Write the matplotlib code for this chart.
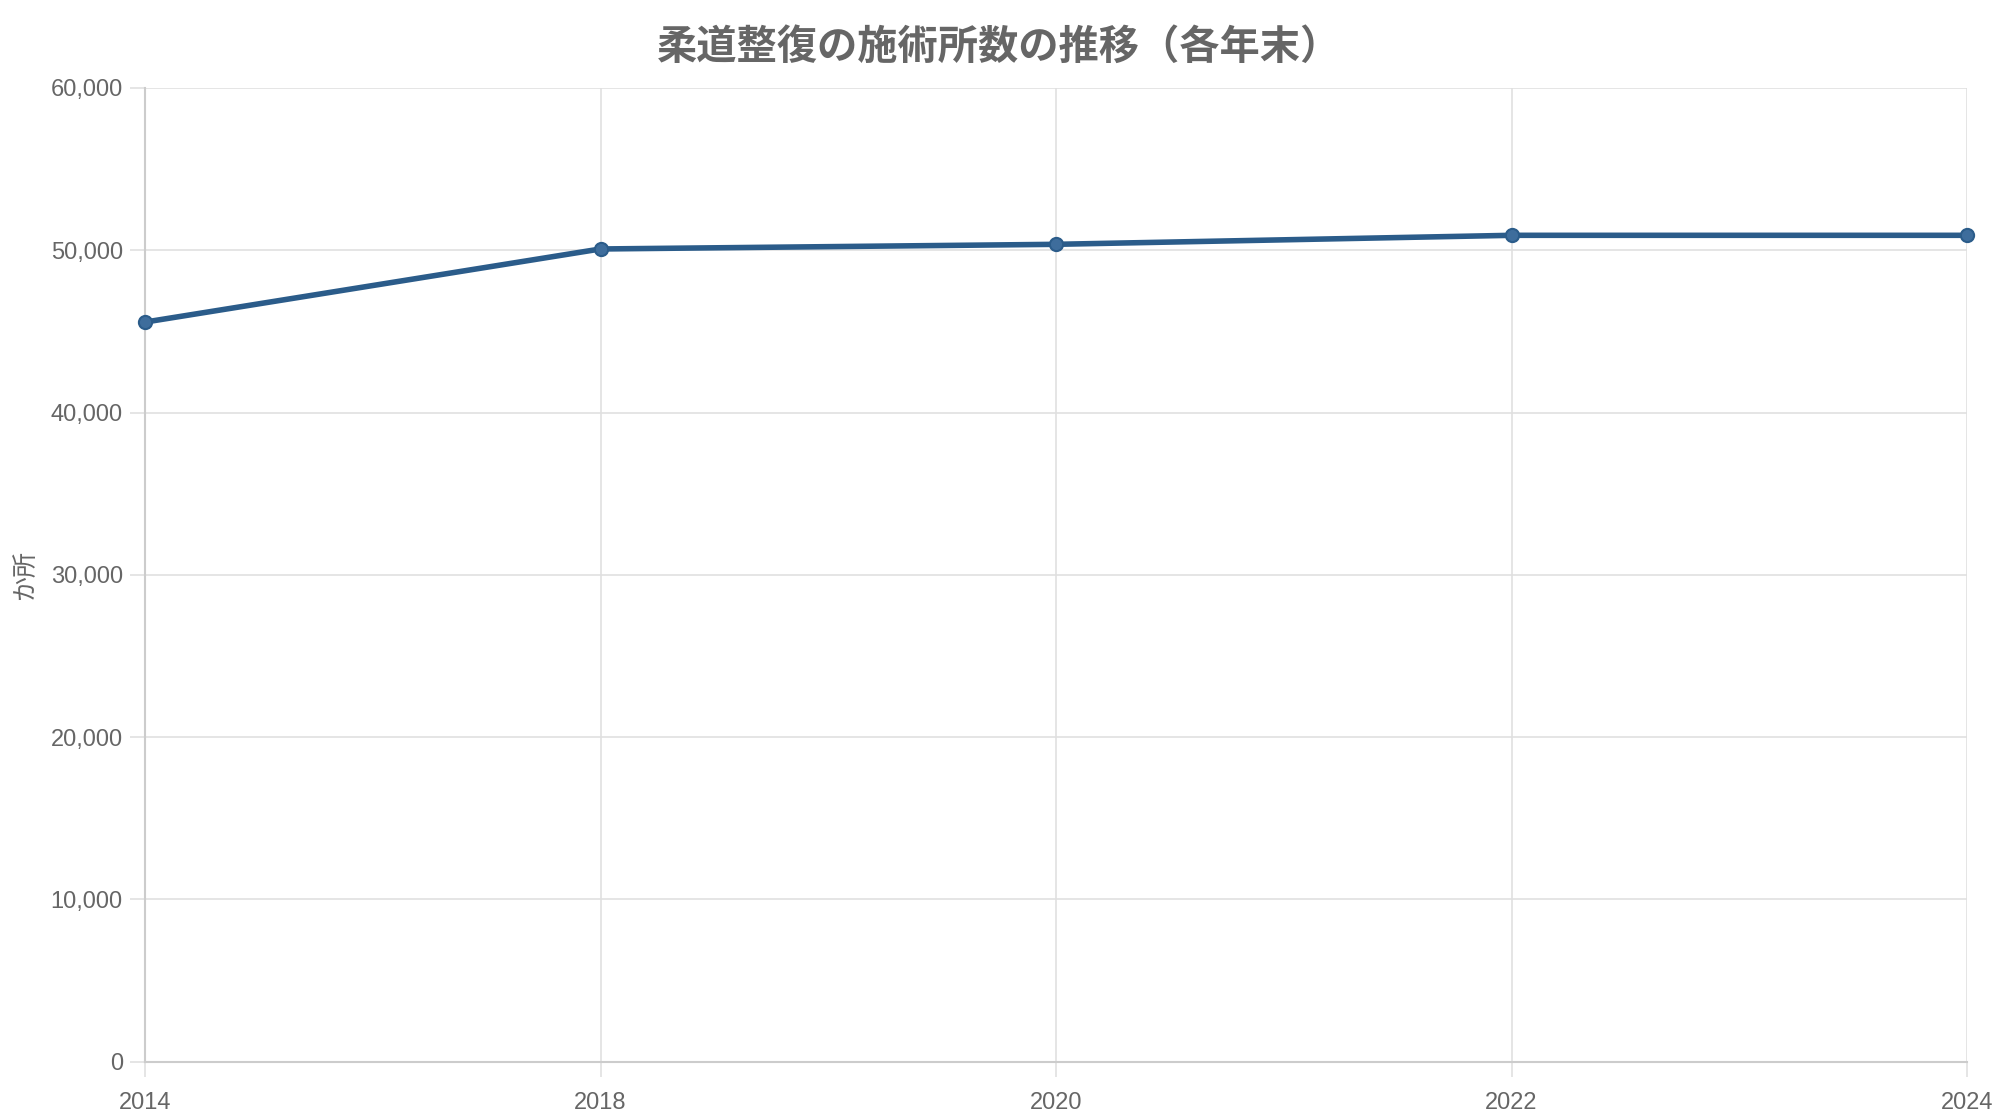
import matplotlib
matplotlib.use("Agg")
import matplotlib.pyplot as plt
from matplotlib.ticker import FuncFormatter, MultipleLocator

plt.rcParams['font.family'] = ['Liberation Sans', 'Noto Sans CJK JP', 'DejaVu Sans']

# data
years = ["2014", "2018", "2020", "2022", "2024"]
counts = [45572, 50077, 50364, 50919, 50919]

title = "柔道整復の施術所数の推移（各年末）"
ylabel = "か所"

text_col = "#666666"
line_col = "#2b5c8a"
grid_col = "#e0e0e0"
axis_col = "#cccccc"

fig = plt.figure(figsize=(20, 11.2), dpi=100)
ax = fig.add_axes([0.0725, 0.052, 0.911, 0.8695])

ax.plot(years, counts, color=line_col, lw=4, marker="o", ms=9.5,
        mfc="#3e6d9c", mec=line_col, mew=1.5, clip_on=False, zorder=3)

ax.set_xlim(0, len(years) - 1)
ax.set_ylim(0, 60000)
ax.yaxis.set_major_locator(MultipleLocator(10000))
ax.yaxis.set_major_formatter(FuncFormatter(lambda v, p: f"{int(v):,}"))

ax.grid(True, color=grid_col, lw=1.2)
ax.set_axisbelow(True)
for s in ["top", "right"]:
    ax.spines[s].set_visible(False)
ax.spines["left"].set_color(axis_col)
ax.spines["bottom"].set_color(axis_col)
ax.spines["left"].set_linewidth(1.5)
ax.spines["bottom"].set_linewidth(1.5)

ax.tick_params(axis="both", length=11, width=1.2, color=grid_col,
               labelsize=17, labelcolor=text_col)
ax.tick_params(axis="y", pad=5)
ax.tick_params(axis="x", pad=11)

ax.set_ylabel(ylabel, fontsize=18, color=text_col, labelpad=9,
              family=['Noto Sans CJK JP', 'DejaVu Sans'])

fig.text(0.4995, 0.958, title, ha="center", va="center", fontsize=29,
         fontweight="bold", color=text_col,
         family=['Noto Sans CJK JP', 'DejaVu Sans'])

fig.savefig("out.png", dpi=100, facecolor="white")
